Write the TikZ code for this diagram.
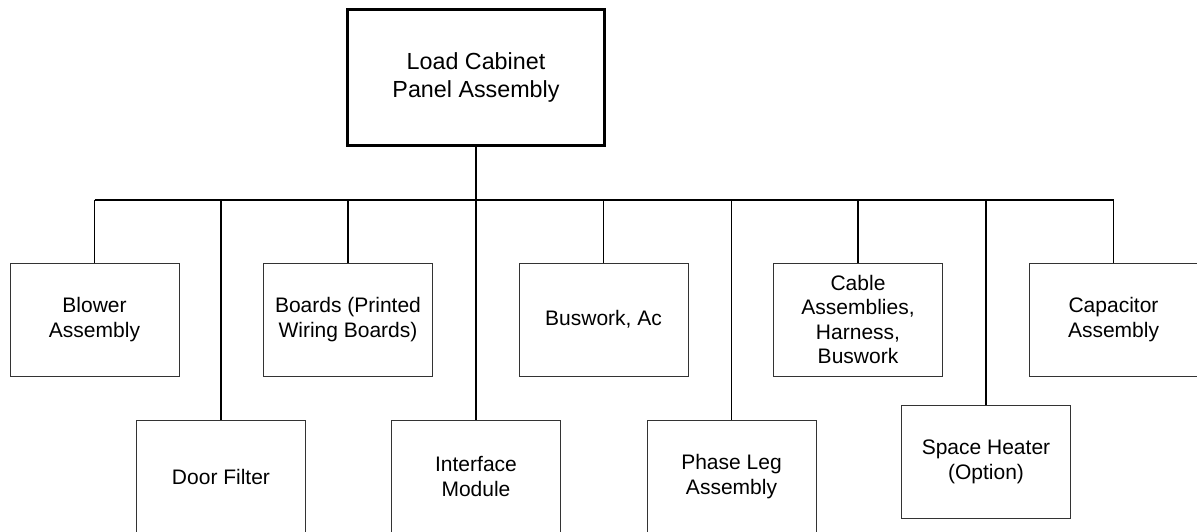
\documentclass[tikz,border=0pt]{standalone}
\usepackage{fontspec}
\setmainfont{Liberation Sans}
\begin{document}
\begin{tikzpicture}[x=1pt,y=-1pt,
  box/.style={draw=black!80, line width=1pt, rectangle, minimum width=169pt, minimum height=113pt, inner sep=0pt, align=center, font=\fontsize{21}{24.3}\selectfont},
  topbox/.style={draw=black, line width=2.6pt, rectangle, minimum width=257pt, minimum height=136pt, inner sep=0pt, align=center, font=\fontsize{23.3}{28}\selectfont},
  conn/.style={draw=black, line width=1.5pt}]
\useasboundingbox (0,0) rectangle (1197,531);
\node[topbox] (top) at (476,77.5) {Load Cabinet\\Panel Assembly};
\coordinate (busL) at (94.5,200);
\coordinate (busR) at (1114,200);
% upper row
\node[box] (blower) at (94.5,319.5) {Blower\\Assembly};
\node[box] (boards) at (348,319.5) {Boards (Printed\\Wiring Boards)};
\node[box] (buswork) at (603.5,319.5) {Buswork, Ac};
\node[box] (cable) at (858,319.5) {Cable\\Assemblies,\\Harness,\\Buswork};
\node[box] (cap) at (1113.5,319.5) {Capacitor\\Assembly};
% lower row
\node[box] (door) at (221,476.5) {Door Filter};
\node[box] (iface) at (476,476.5) {Interface\\Module};
\node[box] (phase) at (731.5,476.5) {Phase Leg\\Assembly};
\node[box] (heater) at (986,461.7) {Space Heater\\(Option)};
% connectors
\draw[conn] (busL) -- (busR);
\draw[conn] (top.south) -- (top.south |- busL);
\foreach \n in {blower,boards,buswork,cable,cap,door,iface,phase,heater}
  \draw[conn] (\n.north) -- (\n.north |- busL);
\end{tikzpicture}
\end{document}
